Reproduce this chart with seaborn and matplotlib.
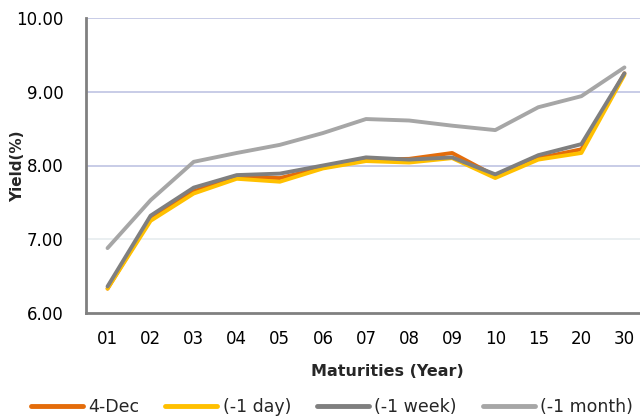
import matplotlib
matplotlib.use("Agg")
import matplotlib.pyplot as plt
import seaborn as sns
import pandas as pd

maturities = ["01", "02", "03", "04", "05", "06", "07", "08", "09", "10", "15", "20", "30"]
dec4 =      [6.33, 7.28, 7.65, 7.84, 7.83, 7.97, 8.08, 8.09, 8.17, 7.86, 8.10, 8.22, 9.25]
day_ago =   [6.33, 7.25, 7.62, 7.82, 7.78, 7.96, 8.06, 8.04, 8.10, 7.83, 8.08, 8.17, 9.23]
week_ago =  [6.36, 7.32, 7.70, 7.87, 7.89, 8.00, 8.11, 8.08, 8.11, 7.88, 8.14, 8.29, 9.25]
month_ago = [6.88, 7.53, 8.05, 8.17, 8.28, 8.44, 8.63, 8.61, 8.54, 8.48, 8.79, 8.94, 9.33]

series_names = ["4-Dec", "(-1 day)", "(-1 week)", "(-1 month)"]
colors = ["#E46C0A", "#FFC000", "#7F7F7F", "#A6A6A6"]
yticks = [6.0, 7.0, 8.0, 9.0, 10.0]

rows = []
for name, vals in zip(series_names, [dec4, day_ago, week_ago, month_ago]):
    for m, v in zip(maturities, vals):
        rows.append({"Maturity": m, "Yield": v, "Series": name})
df = pd.DataFrame(rows)

sns.set_style("white")
plt.rcParams["font.family"] = ["DejaVu Sans"]

fig = plt.figure(figsize=(6.4, 4.17), dpi=100)
ax = fig.add_axes([86 / 640, 1 - 313 / 417, 560 / 640, 295 / 417])

sns.lineplot(data=df, x="Maturity", y="Yield", hue="Series", hue_order=series_names,
             palette=colors, sort=False, linewidth=2.8, ax=ax, legend=True)

ax.set_xlim(-0.5, len(maturities) - 0.5)
ax.set_ylim(6.0, 10.0)
ax.set_yticks(yticks)
ax.set_yticklabels([f"{t:.2f}" for t in yticks])
ax.tick_params(axis="both", length=0, labelsize=12, colors="#000000")
ax.tick_params(axis="y", pad=16)
ax.tick_params(axis="x", pad=12)

ax.grid(axis="y", color="#BFC3E3", linewidth=1.2)
ax.set_axisbelow(True)
for t, gl in zip(ax.get_yticks(), ax.get_ygridlines()):
    if abs(t - 7.0) < 1e-6:
        gl.set_color("#E6ECEF")
    if abs(t - 6.0) < 1e-6:
        gl.set_visible(False)

for s in ["top", "right"]:
    ax.spines[s].set_visible(False)
for s in ["left", "bottom"]:
    ax.spines[s].set_color("#808080")
    ax.spines[s].set_linewidth(2)

ax.set_xlabel("")
ax.set_ylabel("")
fig.text(18 / 640, 1 - 166 / 417, "Yield(%)", rotation=90, ha="center", va="center",
         fontsize=11, fontweight="bold")
fig.text(387 / 640, 1 - 372 / 417, "Maturities (Year)", ha="center", va="center",
         fontsize=11.5, fontweight="bold")

handles, labels = ax.get_legend_handles_labels()
ax.get_legend().remove()
leg = fig.legend(handles, labels, loc="center", bbox_to_anchor=(332 / 640, 1 - 407 / 417),
                 ncol=4, frameon=False, fontsize=12.5, handlelength=3.0, columnspacing=1.5,
                 handletextpad=0.3, borderpad=0, borderaxespad=0)
for h in leg.get_lines():
    h.set_linewidth(3.5)

fig.savefig("out.png", dpi=100)
